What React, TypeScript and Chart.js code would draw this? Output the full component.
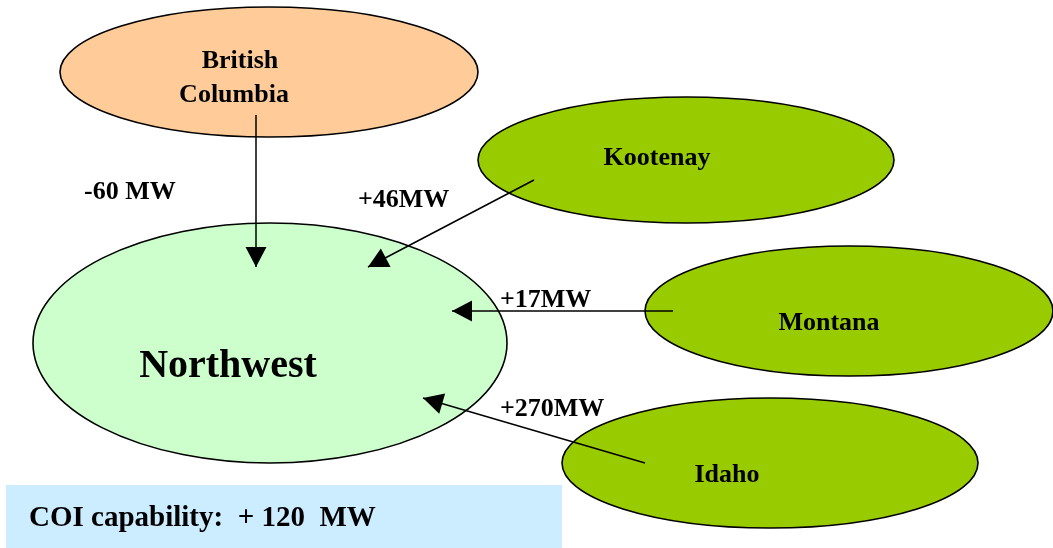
import React, { useEffect, useRef } from "react";
import { Chart, registerables } from "chart.js";

Chart.register(...registerables);

// ---- Data ----
const regions = ["British Columbia", "Kootenay", "Montana", "Idaho", "Northwest"];
const regionLines = [["British", "Columbia"], ["Kootenay"], ["Montana"], ["Idaho"], ["Northwest"]];
const flowLabels = ["-60 MW", "+46MW", "+17MW", "+270MW"];
const flowValues = [-60, 46, 17, 270];
const coiLabel = "COI capability:  + 120  MW";
const coiCapability = 120;

// ---- Layout (diagram coordinates on a 1053 x 548 plane) ----
const nodeCx = [269, 686, 849, 770, 270];
const nodeCy = [72, 160, 311, 463, 343];
const nodeRx = [209, 208, 204, 208, 237];
const nodeRy = [65, 63, 65, 65, 120];
const nodeFill = ["#FFCC99", "#99CC00", "#99CC00", "#99CC00", "#CCFFCC"];
const nodeTextX = [[240, 234], [657], [829], [727], [228]];
const nodeTextY = [[68, 102], [165], [330], [482], [377]];
const nodeFontSize = [26, 26, 26, 26, 40];

const arrowFromX = [256, 534, 673, 645];
const arrowFromY = [115, 180, 311, 463];
const arrowToX = [256, 368, 452, 423];
const arrowToY = [267, 267, 311, 398];
const flowTextX = [84, 358, 500, 500];
const flowTextY = [199, 207, 307, 416];

const coiBox = { x0: 6, y0: 485, x1: 562, y1: 548 };
const coiTextX = 29;
const coiTextY = 526;
const coiFontSize = 29;

const FONT = "'Liberation Serif', 'Times New Roman', serif";

const diagramPlugin = {
  id: "diagram",
  beforeDatasetsDraw(chart: any) {
    const { ctx, scales } = chart;
    const xs = scales.x;
    const ys = scales.y;
    ctx.save();
    // COI box
    const bx0 = xs.getPixelForValue(coiBox.x0);
    const bx1 = xs.getPixelForValue(coiBox.x1);
    const by0 = ys.getPixelForValue(coiBox.y0);
    const by1 = ys.getPixelForValue(coiBox.y1);
    ctx.fillStyle = "#CCECFF";
    ctx.fillRect(bx0, by0, bx1 - bx0, by1 - by0);
    // ellipses
    regions.forEach((_, i) => {
      const cx = xs.getPixelForValue(nodeCx[i]);
      const cy = ys.getPixelForValue(nodeCy[i]);
      const rx = Math.abs(xs.getPixelForValue(nodeCx[i] + nodeRx[i]) - cx);
      const ry = Math.abs(ys.getPixelForValue(nodeCy[i] + nodeRy[i]) - cy);
      ctx.beginPath();
      ctx.ellipse(cx, cy, rx, ry, 0, 0, Math.PI * 2);
      ctx.fillStyle = nodeFill[i];
      ctx.fill();
      ctx.lineWidth = 1.6;
      ctx.strokeStyle = "#000";
      ctx.stroke();
    });
    ctx.restore();
  },
  afterDatasetsDraw(chart: any) {
    const { ctx, scales } = chart;
    const xs = scales.x;
    const ys = scales.y;
    ctx.save();
    // arrow heads
    flowValues.forEach((_, i) => {
      const x0 = xs.getPixelForValue(arrowFromX[i]);
      const y0 = ys.getPixelForValue(arrowFromY[i]);
      const x1 = xs.getPixelForValue(arrowToX[i]);
      const y1 = ys.getPixelForValue(arrowToY[i]);
      const a = Math.atan2(y1 - y0, x1 - x0);
      const len = 20;
      const hw = 10.5;
      const bx = x1 - len * Math.cos(a);
      const by = y1 - len * Math.sin(a);
      ctx.beginPath();
      ctx.moveTo(x1, y1);
      ctx.lineTo(bx + hw * Math.sin(a), by - hw * Math.cos(a));
      ctx.lineTo(bx - hw * Math.sin(a), by + hw * Math.cos(a));
      ctx.closePath();
      ctx.fillStyle = "#000";
      ctx.fill();
    });
    // texts
    ctx.fillStyle = "#000";
    ctx.textBaseline = "alphabetic";
    regions.forEach((_, i) => {
      ctx.font = `bold ${nodeFontSize[i]}px ${FONT}`;
      ctx.textAlign = "center";
      regionLines[i].forEach((t, j) => {
        ctx.fillText(t, xs.getPixelForValue(nodeTextX[i][j]), ys.getPixelForValue(nodeTextY[i][j]));
      });
    });
    ctx.font = `bold 26px ${FONT}`;
    ctx.textAlign = "left";
    flowLabels.forEach((t, i) => {
      ctx.fillText(t, xs.getPixelForValue(flowTextX[i]), ys.getPixelForValue(flowTextY[i]));
    });
    ctx.font = `bold ${coiFontSize}px ${FONT}`;
    ctx.fillText(coiLabel, xs.getPixelForValue(coiTextX), ys.getPixelForValue(coiTextY));
    ctx.restore();
  },
};

export default function App() {
  const ref = useRef<HTMLCanvasElement | null>(null);
  useEffect(() => {
    if (!ref.current) return;
    const datasets = flowValues.map((v, i) => ({
      label: `${regions[i]} → Northwest (${v} MW)`,
      data: [
        { x: arrowFromX[i], y: arrowFromY[i] },
        { x: arrowToX[i], y: arrowToY[i] },
      ],
      showLine: true,
      borderColor: "#000",
      borderWidth: 1.5,
      pointRadius: 0,
      fill: false,
    }));
    const chart = new Chart(ref.current, {
      type: "scatter",
      data: { datasets },
      options: {
        animation: false,
        responsive: false,
        maintainAspectRatio: false,
        layout: { padding: 0 },
        plugins: {
          legend: { display: false },
          tooltip: { enabled: false },
          title: { display: false, text: `COI capability ${coiCapability} MW` },
        },
        scales: {
          x: { type: "linear", min: 0, max: 1053, display: false },
          y: { type: "linear", min: 0, max: 548, reverse: true, display: false },
        },
      },
      plugins: [diagramPlugin],
    });
    return () => chart.destroy();
  }, []);
  return (
    <div style={{ position: "fixed", left: 0, top: 0, width: 1053, height: 548, background: "#fff" }}>
      <canvas ref={ref} width={1053} height={548} style={{ width: 1053, height: 548, display: "block" }} />
    </div>
  );
}
